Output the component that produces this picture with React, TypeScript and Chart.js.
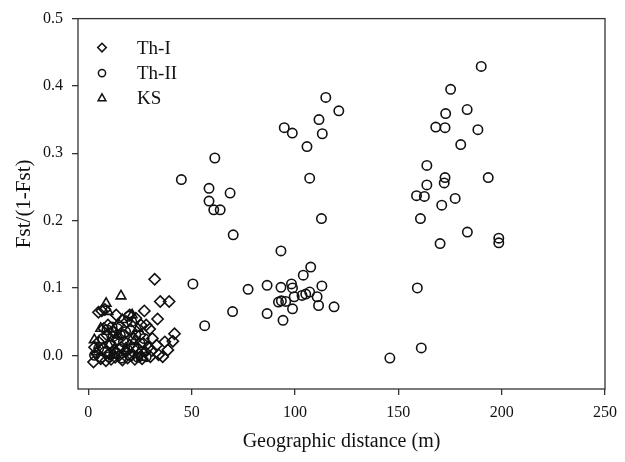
import React, { useEffect, useRef } from 'react';
import { Chart, registerables } from 'chart.js';

Chart.register(...registerables);

const xTicks = [0, 50, 100, 150, 200, 250];
const yTicks = [0, 0.1, 0.2, 0.3, 0.4, 0.5];
const seriesLabels = ['Th-I', 'Th-II', 'KS'];

const thI: [number, number][] = [
  [2.5, -0.010], [3, 0.012], [4, 0.003], [5, 0.020], [4.9, 0.064], [6, -0.005], [6.5, 0.066], [7, 0.010],
  [7.5, 0.040], [8, 0.068], [8.5, -0.008], [9, 0.030], [9.5, 0.045], [10, 0.002], [10.5, 0.018], [11, -0.006],
  [12, 0.035], [12.5, 0.008], [13, -0.003], [13.5, 0.060], [14, 0.022], [14.5, 0.045], [15, 0.000], [16, 0.012],
  [16.5, -0.007], [17, 0.030], [18, 0.005], [18.5, 0.050], [19, -0.004], [20, 0.015], [20, 0.060], [20.5, 0.038],
  [21, 0.000], [22, 0.025], [22.5, -0.006], [23, 0.055], [24, 0.010], [24.5, 0.002], [25, 0.030], [25.5, 0.045],
  [26, -0.005], [26.5, 0.018], [27.1, 0.066], [27.5, 0.005], [28, 0.045], [29, 0.012], [29.7, 0.039], [30, -0.002],
  [30.8, 0.007], [31, 0.025], [32.1, 0.113], [33, 0.015], [33.5, 0.054], [34, 0.001], [34.8, 0.080], [36, -0.002],
  [37, 0.020], [38.5, 0.008], [39.1, 0.080], [40.9, 0.021], [41.7, 0.032],
];

const thII: [number, number][] = [
  [3, 0.000], [5, 0.010], [6, -0.003], [7, 0.025], [8, 0.005], [9, 0.038], [10, -0.002], [11, 0.015],
  [11.5, 0.042], [12, 0.028], [13, 0.003], [14, 0.040], [15, 0.010], [15.5, 0.030], [16, -0.004], [17, 0.020],
  [18, 0.035], [19, 0.008], [19.5, 0.058], [20, 0.000], [21, 0.050], [22, 0.012], [23, 0.030], [24, -0.003],
  [25, 0.018], [26, 0.006], [27, 0.025], [28, -0.002],
  [45, 0.261], [50.6, 0.106], [56.3, 0.044], [58.4, 0.248], [58.4, 0.229], [60.7, 0.216], [61.2, 0.293], [63.8, 0.216],
  [68.6, 0.241], [69.8, 0.065], [70.1, 0.179], [77.3, 0.098], [86.5, 0.104], [86.5, 0.062], [92, 0.079], [93.2, 0.155],
  [93.2, 0.101], [93.4, 0.081], [94.2, 0.052], [94.8, 0.338], [95.5, 0.080], [98.3, 0.106], [98.7, 0.330], [98.8, 0.100],
  [98.8, 0.069], [99.6, 0.087], [103.4, 0.089], [104, 0.119], [105.2, 0.091], [105.8, 0.310], [107.1, 0.094], [107.1, 0.263],
  [107.6, 0.131], [110.7, 0.087], [111.4, 0.074], [111.6, 0.350], [112.8, 0.203], [113, 0.103], [113.2, 0.329], [114.9, 0.383],
  [118.9, 0.072], [121.2, 0.363],
  [145.9, -0.004], [158.8, 0.237], [159.2, 0.100], [160.7, 0.203], [161.1, 0.011], [162.6, 0.236], [163.8, 0.282], [163.8, 0.253],
  [168.1, 0.339], [170.2, 0.166], [171, 0.223], [172.2, 0.256], [172.6, 0.264], [172.6, 0.338], [172.9, 0.359], [175.3, 0.395],
  [177.5, 0.233], [180.2, 0.313], [183.3, 0.365], [183.4, 0.183], [188.5, 0.335], [190.1, 0.429], [193.5, 0.264], [198.6, 0.174],
  [198.6, 0.167],
];

const ks: [number, number][] = [
  [2.9, 0.023], [4, 0.005], [6, 0.040], [8.6, 0.077], [9.5, 0.065], [10, 0.015], [12, 0.000], [14, 0.030],
  [15.8, 0.088], [16.4, 0.053], [18, 0.010], [21.2, 0.060], [22, 0.020], [24, 0.040], [26, -0.003],
];

const FONT = '"Liberation Serif", "DejaVu Serif", serif';
const INK = '#111';

const toPts = (a: [number, number][]) => a.map(([x, y]) => ({ x, y }));

const boxAndLegend = {
  id: 'boxAndLegend',
  afterDatasetsDraw(chart: any) {
    const { ctx, chartArea: a } = chart;
    ctx.save();
    ctx.strokeStyle = '#333';
    ctx.lineWidth = 1.3;
    ctx.strokeRect(a.left, a.top, a.right - a.left, a.bottom - a.top);

    // legend
    const mx = a.left + 24;
    const tx = a.left + 59;
    const rows = [a.top + 29, a.top + 54.5, a.top + 79.5];
    ctx.lineWidth = 1.5;
    ctx.strokeStyle = INK;
    ctx.fillStyle = INK;
    ctx.font = `19px ${FONT}`;
    ctx.textBaseline = 'middle';
    ctx.textAlign = 'left';
    rows.forEach((y, i) => {
      ctx.beginPath();
      if (i === 0) {
        const r = 4.3;
        ctx.moveTo(mx, y - r);
        ctx.lineTo(mx + r, y);
        ctx.lineTo(mx, y + r);
        ctx.lineTo(mx - r, y);
        ctx.closePath();
      } else if (i === 1) {
        ctx.arc(mx, y, 3.6, 0, Math.PI * 2);
      } else {
        const r = 4.3;
        ctx.moveTo(mx, y - r);
        ctx.lineTo(mx + r * 0.9, y + r * 0.6);
        ctx.lineTo(mx - r * 0.9, y + r * 0.6);
        ctx.closePath();
      }
      ctx.stroke();
      ctx.fillText(seriesLabels[i], tx, y + 1);
    });
    ctx.restore();
  },
};

export default function App() {
  const ref = useRef<HTMLCanvasElement>(null);
  useEffect(() => {
    if (!ref.current) return;
    const common = {
      borderColor: INK,
      backgroundColor: 'rgba(0,0,0,0)',
      borderWidth: 1.6,
    };
    const chart = new Chart(ref.current, {
      type: 'scatter',
      data: {
        datasets: [
          { label: seriesLabels[0], data: toPts(thI), pointStyle: 'rectRot', pointRadius: 5.6, ...common },
          { label: seriesLabels[1], data: toPts(thII), pointStyle: 'circle', pointRadius: 4.7, ...common },
          { label: seriesLabels[2], data: toPts(ks), pointStyle: 'triangle', pointRadius: 5.6, ...common },
        ],
      },
      options: {
        animation: false,
        responsive: false,
        maintainAspectRatio: false,
        layout: { padding: { top: 16, right: 14, left: 0, bottom: 0 } },
        plugins: { legend: { display: false }, tooltip: { enabled: false } },
        scales: {
          x: {
            type: 'linear',
            min: -5,
            max: 250,
            afterBuildTicks: (s: any) => { s.ticks = xTicks.map((v) => ({ value: v })); },
            afterFit: (s: any) => { s.height = 73; },
            grid: { display: true, drawOnChartArea: false, drawTicks: true, tickLength: 6, color: '#333', lineWidth: 1.3 },
            border: { display: false },
            ticks: { color: INK, font: { family: FONT, size: 16 }, padding: 8, maxRotation: 0, callback: (v: any) => String(v) },
            title: { display: true, text: 'Geographic distance (m)', color: INK, font: { family: FONT, size: 20 }, padding: { top: 0, bottom: 8 } },
          },
          y: {
            type: 'linear',
            min: -0.05,
            max: 0.5,
            afterBuildTicks: (s: any) => { s.ticks = yTicks.map((v) => ({ value: v })); },
            afterFit: (s: any) => { s.width = 78; },
            grid: { display: true, drawOnChartArea: false, drawTicks: true, tickLength: 6, color: '#333', lineWidth: 1.3 },
            border: { display: false },
            ticks: { color: INK, font: { family: FONT, size: 16 }, padding: 9, callback: (v: any) => Number(v).toFixed(1) },
            title: { display: true, text: 'Fst/(1-Fst)', color: INK, font: { family: FONT, size: 21 }, padding: { top: 12, bottom: 0 } },
          },
        },
      },
      plugins: [boxAndLegend],
    });
    return () => chart.destroy();
  }, []);
  return (
    <div style={{ position: 'fixed', left: 0, top: 0, width: 625, height: 462, background: '#fff' }}>
      <canvas ref={ref} width={625} height={462} style={{ width: 625, height: 462, display: 'block' }} />
    </div>
  );
}
